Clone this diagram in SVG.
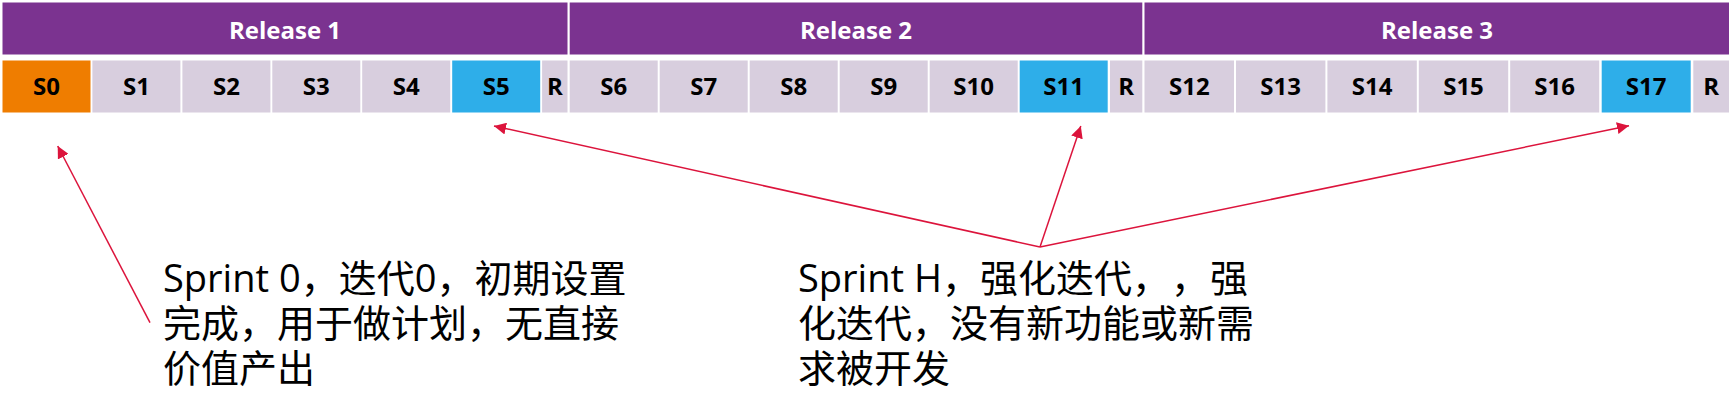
<svg xmlns="http://www.w3.org/2000/svg" width="1735" height="413" viewBox="0 0 1735 413">
<style>
.rel{fill:#7B3390}
.spr{fill:#D8CEDE}
.s0{fill:#EF7D00}
.hard{fill:#2EAEE9}
.rt{font-family:"Open Sans","Liberation Sans",sans-serif;font-weight:700;font-size:24px;fill:#fff;text-anchor:middle}
.st{font-family:"Open Sans","Liberation Sans",sans-serif;font-weight:700;font-size:24px;fill:#000;text-anchor:middle}
.note{font-family:"Open Sans","Noto Sans CJK SC",sans-serif;font-size:38px;fill:#000;text-spacing-trim:space-all}
.conn{stroke:#DC143C;stroke-width:1.5;fill:none;marker-end:url(#ah)}
</style>
<defs>
<marker id="ah" markerUnits="userSpaceOnUse" viewBox="0 0 12 12" markerWidth="12" markerHeight="12" refX="12" refY="6" orient="auto">
<path d="M0,0 L12,6 L0,12 z" fill="#DC143C"/>
</marker>
</defs>
<rect width="1735" height="413" fill="#fff"/>
<g id="release1"><rect class="rel" x="2.5" y="2.5" width="565" height="52"/><text class="rt" x="285" y="39">Release 1</text></g>
<g id="release2"><rect class="rel" x="569.7" y="2.5" width="572.6" height="52"/><text class="rt" x="856" y="39">Release 2</text></g>
<g id="release3"><rect class="rel" x="1144.5" y="2.5" width="584.5" height="52"/><text class="rt" x="1437" y="39">Release 3</text></g>

<g id="s0"><rect class="s0" x="2.5" y="60.5" width="88" height="52"/><text class="st" x="46.5" y="95">S0</text></g>
<g id="s1"><rect class="spr" x="92.4" y="60.5" width="88" height="52"/><text class="st" x="136.4" y="95">S1</text></g>
<g id="s2"><rect class="spr" x="182.4" y="60.5" width="88" height="52"/><text class="st" x="226.4" y="95">S2</text></g>
<g id="s3"><rect class="spr" x="272.3" y="60.5" width="88" height="52"/><text class="st" x="316.3" y="95">S3</text></g>
<g id="s4"><rect class="spr" x="362.2" y="60.5" width="88" height="52"/><text class="st" x="406.2" y="95">S4</text></g>
<g id="s5"><rect class="hard" x="452.2" y="60.5" width="88" height="52"/><text class="st" x="496.2" y="95">S5</text></g>
<g id="r1"><rect class="spr" x="542.1" y="60.5" width="25.4" height="52"/><text class="st" x="554.8" y="95">R</text></g>

<g id="s6"><rect class="spr" x="569.7" y="60.5" width="88" height="52"/><text class="st" x="613.7" y="95">S6</text></g>
<g id="s7"><rect class="spr" x="659.7" y="60.5" width="88" height="52"/><text class="st" x="703.7" y="95">S7</text></g>
<g id="s8"><rect class="spr" x="749.7" y="60.5" width="88" height="52"/><text class="st" x="793.7" y="95">S8</text></g>
<g id="s9"><rect class="spr" x="839.7" y="60.5" width="88" height="52"/><text class="st" x="883.7" y="95">S9</text></g>
<g id="s10"><rect class="spr" x="929.7" y="60.5" width="88" height="52"/><text class="st" x="973.7" y="95">S10</text></g>
<g id="s11"><rect class="hard" x="1019.7" y="60.5" width="88" height="52"/><text class="st" x="1063.7" y="95">S11</text></g>
<g id="r2"><rect class="spr" x="1110" y="60.5" width="32.3" height="52"/><text class="st" x="1126.2" y="95">R</text></g>

<g id="s12"><rect class="spr" x="1144.5" y="60.5" width="89.5" height="52"/><text class="st" x="1189.3" y="95">S12</text></g>
<g id="s13"><rect class="spr" x="1236" y="60.5" width="89.4" height="52"/><text class="st" x="1280.7" y="95">S13</text></g>
<g id="s14"><rect class="spr" x="1327.4" y="60.5" width="89.4" height="52"/><text class="st" x="1372.1" y="95">S14</text></g>
<g id="s15"><rect class="spr" x="1418.8" y="60.5" width="89.4" height="52"/><text class="st" x="1463.5" y="95">S15</text></g>
<g id="s16"><rect class="spr" x="1510.2" y="60.5" width="89" height="52"/><text class="st" x="1554.7" y="95">S16</text></g>
<g id="s17"><rect class="hard" x="1601.7" y="60.5" width="89" height="52"/><text class="st" x="1646.2" y="95">S17</text></g>
<g id="r3"><rect class="spr" x="1693.3" y="60.5" width="35.7" height="52"/><text class="st" x="1711.1" y="95">R</text></g>

<g id="note0">
<text class="note" x="163" y="292">Sprint 0，迭代0，初期设置</text>
<text class="note" x="163" y="337">完成，用于做计划，无直接</text>
<text class="note" x="163" y="382">价值产出</text>
</g>
<g id="noteH">
<text class="note" x="798" y="292">Sprint H，强化迭代<tspan x="1132">，</tspan><tspan x="1171">，</tspan><tspan x="1210">强</tspan></text>
<text class="note" x="798" y="337">化迭代，没有新功能或新需</text>
<text class="note" x="798" y="382">求被开发</text>
</g>

<g id="connectors">
<line class="conn" x1="150" y1="322.7" x2="57.7" y2="146"/>
<line class="conn" x1="1040" y1="247" x2="494" y2="126"/>
<line class="conn" x1="1040" y1="247" x2="1080.8" y2="126"/>
<line class="conn" x1="1040" y1="247" x2="1629" y2="125.7"/>
</g>
</svg>
